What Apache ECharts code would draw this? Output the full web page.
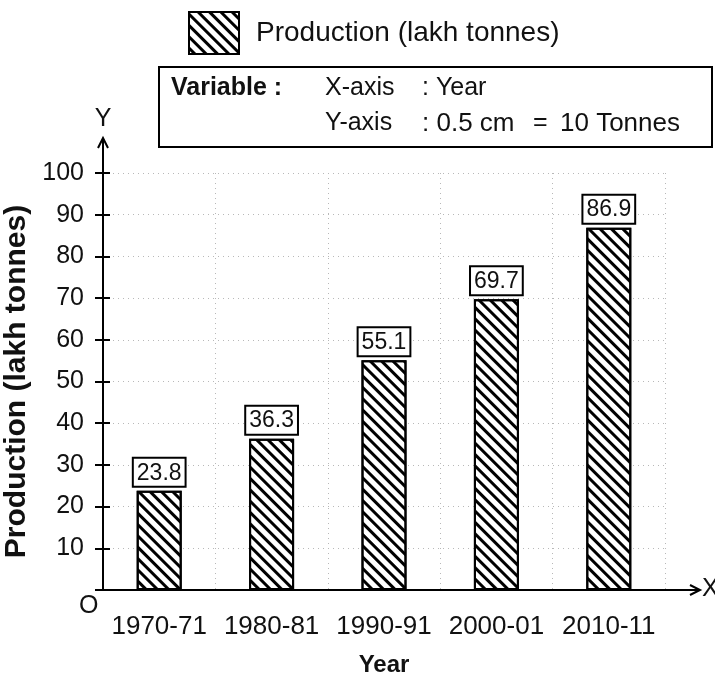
<!DOCTYPE html>
<html>
<head>
<meta charset="utf-8">
<script src="https://cdn.jsdelivr.net/npm/echarts@6/dist/echarts.min.js"></script>
<style>
  html, body { margin: 0; padding: 0; background: #fff; }
  #chart { width: 715px; height: 675px; }
</style>
</head>
<body>
<div id="chart"></div>
<script>
// data
var years = ['1970-71', '1980-81', '1990-91', '2000-01', '2010-11']
var production = [23.8, 36.3, 55.1, 69.7, 86.9]
var yTicks = [0, 10, 20, 30, 40, 50, 60, 70, 80, 90, 100]
var seriesName = 'Production (lakh tonnes)'

var font = 'Liberation Sans, Arial, sans-serif'
var dotted = { color: '#b8b8b8', width: 1, type: [1, 4] }
var gridLeft = 103, gridRight = 50

var chart = echarts.init(document.getElementById('chart'))

var hatch = {
    symbol: 'rect',
    symbolSize: 1,
    dashArrayX: [1, 0],
    dashArrayY: [3, 4.2],
    rotation: Math.PI / 4,
    color: '#000'
}

var option = {
    backgroundColor: '#fff',
    animation: false,
    textStyle: { fontFamily: font, color: '#111' },
    legend: {
        left: 188,
        top: 11,
        padding: 0,
        itemWidth: 50,
        itemHeight: 42,
        icon: 'rect',
        data: [seriesName],
        textStyle: { fontSize: 28, color: '#111', padding: [0, 0, 0, 12] }
    },
    grid: { left: gridLeft, right: gridRight, top: 173, bottom: 85, outerBoundsMode: 'none', containLabel: false },
    xAxis: [{
        type: 'category',
        data: years,
        axisLine: { lineStyle: { color: '#000', width: 2 } },
        axisTick: { length: 8, interval: 0, lineStyle: { color: '#000', width: 2 } },
        axisLabel: { fontSize: 26, color: '#111', margin: 24, interval: 0, hideOverlap: false },
        splitLine: { show: true, interval: 0, lineStyle: dotted },
        name: 'Year',
        nameLocation: 'middle',
        nameGap: 63,
        nameTextStyle: { fontSize: 24, fontWeight: 'bold', color: '#111' }
    }, {
        type: 'category',
        data: years,
        position: 'bottom',
        axisLine: { show: false },
        axisTick: { inside: true, interval: 0, length: 6, lineStyle: { color: '#000', width: 2 } },
        axisLabel: { show: false }
    }],
    yAxis: [{
        type: 'value',
        min: 0,
        max: 100,
        interval: 10,
        axisLine: { show: true, lineStyle: { color: '#000', width: 2 } },
        axisTick: { show: true, length: 8, lineStyle: { color: '#000', width: 2 } },
        axisLabel: {
            fontSize: 25, color: '#111', margin: 19,
            formatter: function (v) { return v === 0 ? '' : v }
        },
        splitLine: { show: true, lineStyle: dotted },
        name: seriesName,
        nameLocation: 'middle',
        nameGap: 63,
        nameRotate: 90,
        nameTextStyle: { fontSize: 30, fontWeight: 'bold', color: '#111' }
    }, {
        type: 'value',
        min: 0,
        max: 100,
        interval: 10,
        position: 'left',
        axisLine: { show: false },
        axisTick: { show: true, inside: true, length: 7, lineStyle: { color: '#000', width: 2 } },
        axisLabel: { show: false },
        splitLine: { show: false }
    }],
    series: [{
        name: seriesName,
        type: 'bar',
        data: production,
        barWidth: 45,
        itemStyle: {
            color: '#fff',
            borderColor: '#000',
            borderWidth: 2,
            decal: hatch
        },
        label: {
            show: true,
            position: 'top',
            distance: 5,
            fontSize: 23,
            color: '#111',
            backgroundColor: '#fff',
            borderColor: '#000',
            borderWidth: 2,
            padding: [3, 3, 1, 3]
        }
    }]
}

chart.setOption(option)

// axis arrows, axis letters and the info box
var x0 = gridLeft
var y0 = chart.convertToPixel({ yAxisIndex: 0 }, 0)
var yTop = chart.convertToPixel({ yAxisIndex: 0 }, 100)
var xEnd = 715 - gridRight

chart.setOption({
    graphic: [
        {
            type: 'line',
            shape: { x1: x0, y1: yTop, x2: x0, y2: yTop - 34 },
            style: { stroke: '#000', lineWidth: 2 }
        },
        {
            type: 'polyline',
            shape: { points: [[x0 - 5, yTop - 25], [x0, yTop - 35], [x0 + 5, yTop - 25]] },
            style: { stroke: '#000', lineWidth: 2, fill: null }
        },
        {
            type: 'text', x: x0, y: yTop - 66,
            style: { text: 'Y', font: '25px ' + font, fill: '#111', align: 'center' }
        },
        {
            type: 'line',
            shape: { x1: xEnd, y1: y0, x2: xEnd + 34, y2: y0 },
            style: { stroke: '#000', lineWidth: 2 }
        },
        {
            type: 'polyline',
            shape: { points: [[xEnd + 25, y0 - 5], [xEnd + 35, y0], [xEnd + 25, y0 + 5]] },
            style: { stroke: '#000', lineWidth: 2, fill: null }
        },
        {
            type: 'text', x: xEnd + 37, y: y0 - 13,
            style: { text: 'X', font: '25px ' + font, fill: '#111' }
        },
        {
            type: 'text', x: x0 - 24, y: y0 + 4,
            style: { text: 'O', font: '25px ' + font, fill: '#111' }
        },
        {
            type: 'rect',
            shape: { x: 159, y: 67, width: 553, height: 80 },
            style: { fill: '#fff', stroke: '#000', lineWidth: 2 }
        },
        {
            type: 'text', x: 171, y: 76,
            style: { text: 'Variable :', font: 'bold 25px ' + font, fill: '#111' }
        },
        {
            type: 'text', x: 325, y: 76,
            style: { text: 'X-axis', font: '25px ' + font, fill: '#111' }
        },
        {
            type: 'text', x: 422, y: 76,
            style: { text: ': Year', font: '25px ' + font, fill: '#111' }
        },
        {
            type: 'text', x: 325, y: 111,
            style: { text: 'Y-axis', font: '25px ' + font, fill: '#111' }
        },
        {
            type: 'text', x: 422, y: 111,
            style: { text: ': 0.5 cm', font: '26px ' + font, fill: '#111' }
        },
        {
            type: 'text', x: 533, y: 111,
            style: { text: '=', font: '25px ' + font, fill: '#111' }
        },
        {
            type: 'text', x: 560, y: 111,
            style: { text: '10 Tonnes', font: '26px ' + font, fill: '#111' }
        }
    ]
})

window.addEventListener('resize', function () { chart.resize() })
</script>
</body>
</html>
